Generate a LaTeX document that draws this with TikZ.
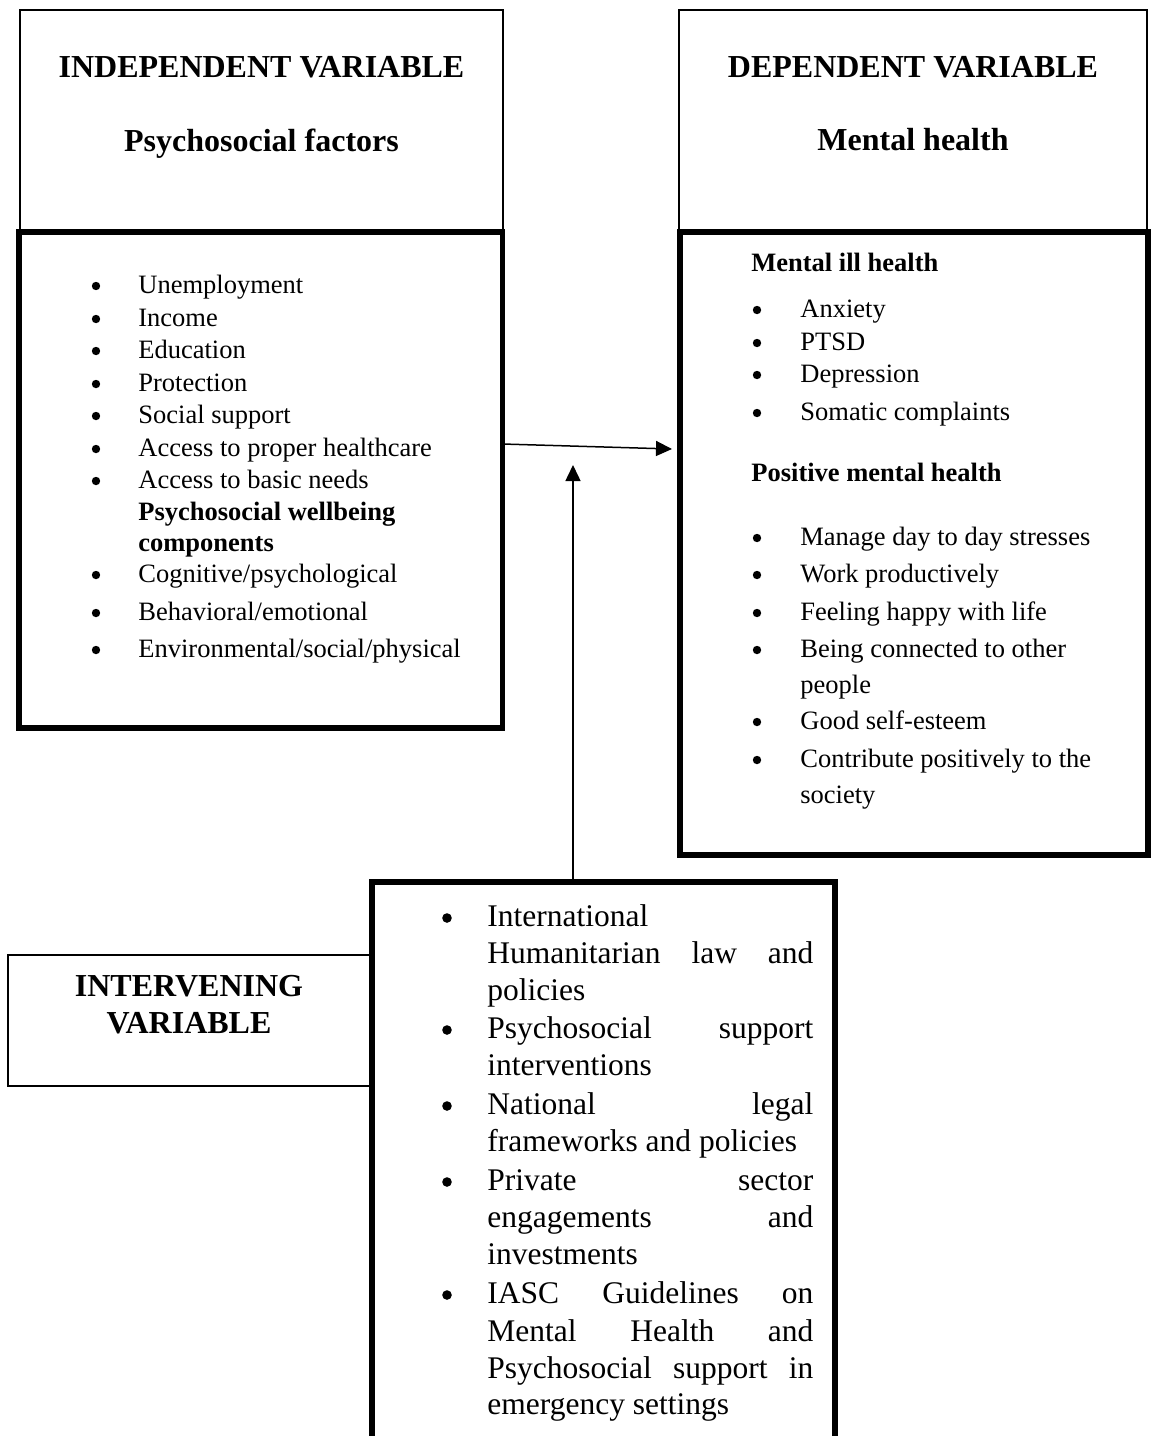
\documentclass[tikz,border=0pt]{standalone}
\usepackage{fontspec}
\setmainfont{Liberation Serif}
\usetikzlibrary{arrows.meta}
\begin{document}
\begin{tikzpicture}[x=0.5pt,y=-0.5pt,
  thinbox/.style={draw,line width=1.1pt,inner sep=0pt,outer sep=0pt},
  thickbox/.style={draw,line width=2.75pt,inner sep=0pt,outer sep=0pt},
  head/.style={font=\fontsize{16}{19}\selectfont\bfseries,anchor=base,inner sep=0pt},
  txt/.style={font=\fontsize{13.25}{16}\selectfont,anchor=base west,inner sep=0pt},
  btxt/.style={font=\fontsize{13.25}{16}\selectfont\bfseries,anchor=base west,inner sep=0pt},
  bul/.style={circle,fill=black,inner sep=0pt,minimum size=4.2pt},
  big/.style={font=\fontsize{15.75}{18}\selectfont,anchor=base west,inner sep=0pt},
  bigbul/.style={circle,fill=black,inner sep=0pt,minimum size=4.8pt},
  arr/.style={line width=0.75pt,-{Triangle[length=8pt,width=7.5pt]}}]
\fill[white] (0,0) rectangle (1153,1436);
\useasboundingbox (0,0) rectangle (1153,1436);

% boxes
\node[thinbox,minimum width=241.5pt,minimum height=111pt] (lt) at (261.5,121) {};
\node[thinbox,minimum width=234pt,minimum height=111pt] (rt) at (913,121) {};
\node[thinbox,minimum width=181pt,minimum height=65.5pt] (iv) at (189,1020.5) {};
\node[thickbox,minimum width=241.75pt,minimum height=248pt] (lb) at (260.75,480) {};
\node[thickbox,minimum width=234pt,minimum height=311.5pt] (rb) at (914,543.5) {};
\node[inner sep=0pt,outer sep=0pt,minimum width=231.5pt,minimum height=289pt] (bc) at (603.5,1171) {};
\draw[line width=2.75pt] (bc.south west) -- (bc.north west) -- (bc.north east) -- (bc.south east);

% headings
\node[head] (h1) at (261.5,77) {INDEPENDENT VARIABLE};
\node[head] (h2) at (261.5,151) {Psychosocial factors};
\node[head] (h3) at (913,77) {DEPENDENT VARIABLE};
\node[head] (h4) at (913,150) {Mental health};
\node[head] (h5) at (189,996) {INTERVENING};
\node[head] (h6) at (189,1033) {VARIABLE};

% left list
\foreach \y/\t [count=\i] in {293/Unemployment,326/Income,358/Education,391/Protection,423/Social support,456/Access to proper healthcare,488/Access to basic needs,582/Cognitive\slash psychological,620/Behavioral\slash emotional,657/Environmental\slash social\slash physical}{
  \node[bul] (lbul\i) at (96,\y-7) {};
  \node[txt] (lt\i) at (138,\y) {\t};
}
\node[btxt] (lw1) at (138,520) {Psychosocial wellbeing};
\node[btxt] (lw2) at (138,551) {components};

% right list
\node[btxt] (rh1) at (751,271) {Mental ill health};
\node[btxt] (rh2) at (751,481) {Positive mental health};
\foreach \y/\t [count=\i] in {317/Anxiety,350/PTSD,382/Depression,420/Somatic complaints,545/Manage day to day stresses,582/Work productively,620/Feeling happy with life,657/Being connected to other,729/Good self-esteem,767/Contribute positively to the}{
  \node[bul] (rbul\i) at (757,\y-7) {};
  \node[txt] (rt\i) at (800,\y) {\t};
}
\node[txt] (rc1) at (800,693) {people};
\node[txt] (rc2) at (800,803) {society};

% bottom list
\foreach \y [count=\i] in {926,1038,1114,1190,1303}{
  \node[bigbul] (bbul\i) at (447,\y-8) {};
}
\node[big] (bt1) at (487,926) {International};
\node[big] (bt2) at (487,963) {\makebox[163pt][l]{Humanitarian\hfill law\hfill and}};
\node[big] (bt3) at (487,1000) {policies};
\node[big] (bt4) at (487,1038) {\makebox[163pt][l]{Psychosocial\hfill support}};
\node[big] (bt5) at (487,1075) {interventions};
\node[big] (bt6) at (487,1114) {\makebox[163pt][l]{National\hfill legal}};
\node[big] (bt7) at (487,1151) {frameworks and policies};
\node[big] (bt8) at (487,1190) {\makebox[163pt][l]{Private\hfill sector}};
\node[big] (bt9) at (487,1227) {\makebox[163pt][l]{engagements\hfill and}};
\node[big] (bt10) at (487,1264) {investments};
\node[big] (bt11) at (487,1303) {\makebox[163pt][l]{IASC\hfill Guidelines\hfill on}};
\node[big] (bt12) at (487,1341) {\makebox[163pt][l]{Mental\hfill Health\hfill and}};
\node[big] (bt13) at (487,1378) {\makebox[163pt][l]{Psychosocial\hfill support\hfill in}};
\node[big] (bt14) at (487,1414) {emergency settings};

% connectors
\coordinate (vt) at (573,465);
\draw[arr] ([yshift=18pt]lb.east) -- ([xshift=-4pt,yshift=47.25pt]rb.west);
\draw[arr] ([xshift=-15.25pt]bc.north) -- (vt);
\end{tikzpicture}
\end{document}
